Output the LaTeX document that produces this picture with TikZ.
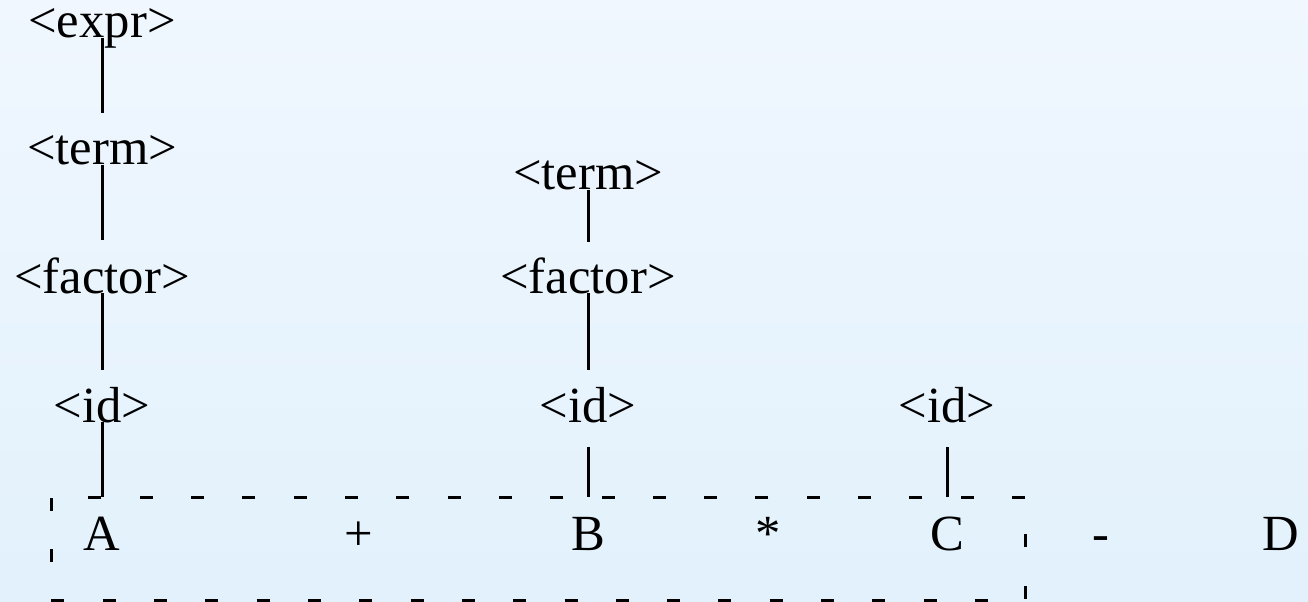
\documentclass[tikz,border=0pt]{standalone}
\usepackage{fontspec}
\setmainfont{Liberation Serif}
\usetikzlibrary{calc}
\definecolor{bgtop}{RGB}{240,247,254}
\definecolor{bgbot}{RGB}{226,241,252}
\tikzset{
  sym/.style={inner sep=0pt, anchor=base, font=\fontsize{38}{40}\selectfont},
  edge/.style={line width=2.25pt},
  boxline/.style={line width=2.25pt, dash pattern=on 9.75pt off 28.73pt}
}
\begin{document}
\begin{tikzpicture}[x=0.75pt,y=-0.75pt]
\shade[top color=bgtop,bottom color=bgbot] (0,0) rectangle (1308,602);
\useasboundingbox (0,0) rectangle (1308,602);
% left column
\node[sym] (expr) at (102,38) {<expr>};
\node[sym] (term1) at (102,165) {<term>};
\node[sym] (fac1) at (102,293) {<factor>};
\node[sym] (id1) at (102,422) {<id>};
% middle column
\node[sym] (term2) at (588,190) {<term>};
\node[sym] (fac2) at (588,293) {<factor>};
\node[sym] (id2) at (588,422) {<id>};
% right column
\node[sym] (id3) at (947,422) {<id>};
% tokens
\node[sym] (A) at (102,550) {A};
\node[sym] (plus) at (359,550) {+};
\node[sym] (B) at (588,550) {B};
\node[sym] (star) at (768,550) {*};
\node[sym] (C) at (947,550) {C};
\node[sym] (minus) at (1101,550) {-};
\node[sym] (D) at (1281,550) {D};
% edges
\draw[edge] (expr.base) -- ($(term1.base)+(0,-52)$);
\draw[edge] (term1.base) -- ($(fac1.base)+(0,-53)$);
\draw[edge] (fac1.base) -- ($(id1.base)+(0,-52)$);
\draw[edge] (id1.base) -- ($(A.base)+(0,-53)$);
\draw[edge] (term2.base) -- ($(fac2.base)+(0,-51)$);
\draw[edge] (fac2.base) -- ($(id2.base)+(0,-52)$);
\draw[edge] ($(id2.base)+(0,25)$) -- ($(B.base)+(0,-53)$);
\draw[edge] ($(id3.base)+(0,25)$) -- ($(C.base)+(0,-53)$);
% dashed box (drawn right-to-left along the top, then down, along the bottom, up)
\coordinate (bx1) at (1025,497);
\coordinate (bx2) at (51,600);
\draw[boxline] (bx1) -- (bx1 -| bx2) -- (bx2) -- (bx2 -| bx1) -- cycle;
\end{tikzpicture}
\end{document}
